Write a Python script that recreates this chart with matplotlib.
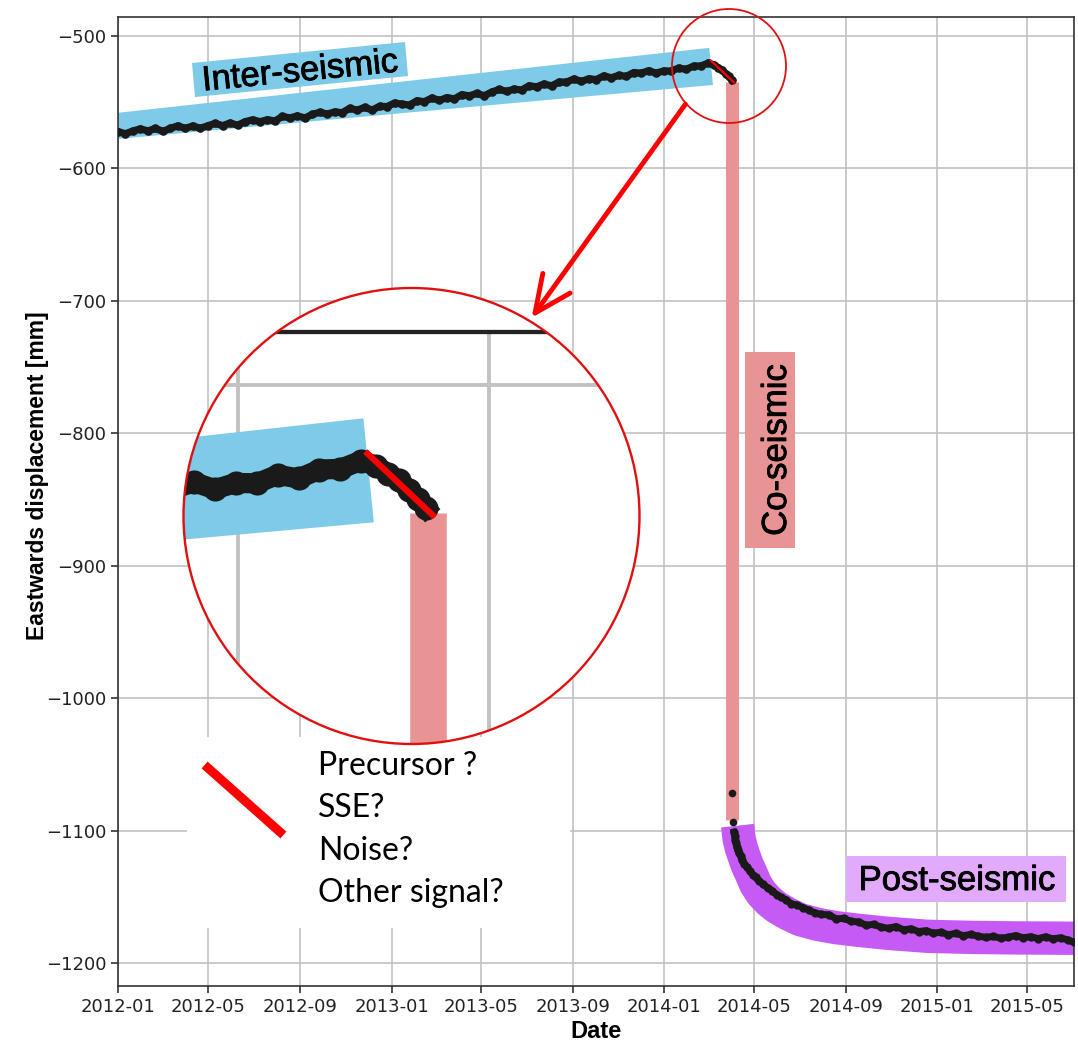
import numpy as np
import pandas as pd
import matplotlib
matplotlib.use('Agg')
import matplotlib.pyplot as plt
import matplotlib.dates as mdates
import matplotlib.patheffects as pe
from matplotlib.patches import Polygon, Circle, Ellipse, FancyArrowPatch
from matplotlib.lines import Line2D

W, H = 1078, 1045


def px(x, y):
    # reference pixel (from top-left) -> figure fraction
    return (x / W, 1 - y / H)


# ---- GPS east component ----
inter_dates = pd.date_range('2012-01-01', periods=80, freq='10D')
inter_vals = [
    -572.2, -573.8, -571.7, -570.1, -571.7, -569.8, -572.0, -569.8, -567.8, -569.8,
    -567.9, -569.7, -567.8, -566.0, -567.7, -565.7, -567.4, -564.7, -563.3, -564.7,
    -563.2, -564.2, -560.7, -561.9, -560.3, -561.9, -559.2, -557.6, -558.9, -557.3,
    -557.9, -554.6, -556.0, -553.9, -555.9, -553.1, -553.3, -550.6, -551.5, -552.1,
    -548.9, -549.6, -546.8, -548.7, -546.5, -547.5, -544.3, -545.2, -543.4, -545.1,
    -542.3, -540.4, -541.8, -540.1, -540.8, -537.6, -538.4, -536.2, -537.7, -534.8,
    -534.8, -532.5, -534.3, -532.3, -532.9, -530.1, -531.6, -529.7, -530.5, -527.6,
    -528.1, -526.2, -528.1, -526.4, -526.5, -524.2, -525.2, -522.8, -522.6, -520.4,
]
precursor_dates = pd.to_datetime(['2014-03-08', '2014-03-14', '2014-03-19',
                                  '2014-03-24', '2014-03-28', '2014-04-01'])
precursor_vals = [-521.8, -523.9, -525.7, -528.4, -530.6, -533.2]

coseismic_dates = pd.to_datetime(['2014-04-02', '2014-04-03'])
coseismic_vals = [-1071, -1093]

quake = pd.Timestamp('2014-04-01')
post_offsets = [3, 4, 5, 6, 7, 8, 10, 12, 14, 17, 20, 24, 28, 32, 37, 42, 48, 54, 60,
                66, 73, 80, 88, 96, 104, 112, 120, 130, 140, 150, 160, 170, 180, 190,
                200, 210, 220, 230, 240, 250, 260, 270, 280, 290, 300, 310, 320, 330,
                340, 350, 360, 370, 380, 390, 400, 410, 420, 430, 440, 450, 458]
post_vals = [
    -1101, -1104, -1107, -1109, -1112, -1114, -1117, -1119, -1122, -1125, -1127,
    -1130, -1133, -1135, -1138, -1140, -1143, -1145, -1148, -1150, -1152, -1155,
    -1156, -1158, -1160, -1162, -1163, -1163.2, -1166.4, -1165.9, -1168.3, -1168.6,
    -1171.2, -1170.4, -1172.6, -1173.4, -1172.1, -1174.6, -1173.8, -1175.9, -1175.2,
    -1177.1, -1176.4, -1178.3, -1177.2, -1179.0, -1178.1, -1179.4, -1180.3, -1179.6,
    -1180.9, -1180.2, -1178.9, -1180.6, -1179.8, -1181.2, -1179.9, -1181.4, -1180.6,
    -1182.3, -1184.0,
]
post_dates = quake + pd.to_timedelta(post_offsets, unit='D')

# hand drawn highlight shapes
inter_band_dates = pd.to_datetime(['2012-01-01', '2014-03-02', '2014-03-07', '2012-01-01'])
inter_band_vals = [-558.0, -509.0, -537.0, -577.7]

post_band_offsets = [8, 10, 13, 16, 21, 26, 32, 40, 50, 60, 75, 92, 115, 140, 170,
                     210, 262, 320, 380, 470]
post_band_vals = [-1096, -1106, -1113, -1118, -1126, -1132, -1140, -1147, -1153,
                  -1157.5, -1162.5, -1167, -1170.5, -1173, -1175, -1177.3, -1179.5,
                  -1180.3, -1180.7, -1181]
post_band_dates = quake + pd.to_timedelta(post_band_offsets, unit='D')

coseismic_bar_date = pd.Timestamp('2014-04-02')
coseismic_bar_vals = [-534.5, -1092]

precursor_line_dates = pd.to_datetime(['2014-03-04', '2014-04-04'])
precursor_line_vals = [-518.5, -535]

legend_lines = ['Precursor ?', 'SSE?', 'Noise?', 'Other signal?']

CYAN = '#7dcbe8'
PINK = '#e99494'
VIOLET = '#c65af4'
VIOLET_LIGHT = '#e2aafa'
BLACK = '#1a1a1a'
GRID = '#c2c2c2'
XMIN, XMAX = pd.Timestamp('2012-01-01'), pd.Timestamp('2015-07-03')
YMIN, YMAX = -1217, -485.7


def draw_layers(a, k):
    band_xy = np.column_stack([mdates.date2num(inter_band_dates), inter_band_vals])
    a.add_patch(Polygon(band_xy, closed=True, fc=CYAN, ec='none', zorder=2))
    a.plot([coseismic_bar_date] * 2, coseismic_bar_vals, color=PINK, lw=9.4 * k,
           solid_capstyle='butt', zorder=2)
    a.plot(post_band_dates, post_band_vals, color=VIOLET, lw=24 * k,
           solid_capstyle='butt', solid_joinstyle='round', zorder=2)
    pre_d = list(inter_dates) + list(precursor_dates)
    pre_v = inter_vals + precursor_vals
    a.plot(pre_d, pre_v, '-o', color=BLACK, lw=5.2 * k, ms=6.2 * k, mew=0, zorder=3)
    a.plot(coseismic_dates, coseismic_vals, 'o', color=BLACK, ms=5.5 * k, mew=0, zorder=3)
    a.plot(post_dates, post_vals, '-o', color=BLACK, lw=5.0 * k, ms=6.0 * k, mew=0, zorder=3)
    a.plot(precursor_line_dates, precursor_line_vals, color='red', lw=1.6 * k, zorder=4)


fig = plt.figure(figsize=(W / 100, H / 100), dpi=100)
ax = fig.add_axes([118 / W, 1 - 986 / H, (1074 - 118) / W, (986 - 17) / H])

draw_layers(ax, 1.0)

ax.set_xlim(XMIN, XMAX)
ax.set_ylim(YMIN, YMAX)
ax.set_yticks(np.arange(-1200, -499, 100))
ax.xaxis.set_major_locator(mdates.MonthLocator(bymonth=[1, 5, 9]))
ax.xaxis.set_major_formatter(mdates.DateFormatter('%Y-%m'))
ax.grid(True, color=GRID, lw=1.2)
ax.set_axisbelow(True)
ax.tick_params(labelsize=13, length=5, width=1.1, colors='#222222')
for s in ax.spines.values():
    s.set_color('#333333')
    s.set_linewidth(1.2)
ax.set_xlabel('Date', family='Liberation Sans', weight='bold', fontsize=17, labelpad=3)
ax.set_ylabel('Eastwards displacement [mm]', family='Liberation Sans', weight='bold',
              fontsize=16.5)
ax.yaxis.set_label_coords(-0.072, 0.527)

# phase labels
heavy = [pe.withStroke(linewidth=0.6, foreground='black')]
lab = dict(family='Liberation Sans', fontsize=25, color='black', zorder=6, path_effects=heavy)
ax.add_patch(Polygon([px(192, 63), px(405, 42), px(408, 76), px(195, 97)],
                     transform=fig.transFigure, fc=CYAN, ec='none', zorder=5))
ax.text(*px(301, 81), 'Inter-seismic', transform=fig.transFigure, rotation=5.6,
        rotation_mode='anchor', ha='center', va='baseline', **lab)
ax.add_patch(Polygon([px(745, 352), px(795, 352), px(795, 548), px(745, 548)],
                     transform=fig.transFigure, fc=PINK, ec='none', zorder=5))
ax.text(*px(786, 450), 'Co-seismic', transform=fig.transFigure, rotation=90,
        rotation_mode='anchor', ha='center', va='baseline', **lab)
ax.add_patch(Polygon([px(846, 856), px(1066, 856), px(1066, 902), px(846, 902)],
                     transform=fig.transFigure, fc=VIOLET_LIGHT, ec='none', zorder=5))
ax.text(*px(957, 890), 'Post-seismic', transform=fig.transFigure,
        ha='center', va='baseline', **lab)

# legend block
ax.add_patch(Polygon([px(187, 737), px(570, 737), px(570, 928), px(187, 928)],
                     transform=fig.transFigure, fc='white', ec='none', zorder=2.5))
ax.add_line(Line2D([208 / W, 280 / W], [1 - 768 / H, 1 - 832 / H], transform=fig.transFigure,
                   color='red', lw=6.5, zorder=6))
for i, t in enumerate(legend_lines):
    ax.text(*px(318, 775 + 42.3 * i), t, transform=fig.transFigure, family='Lato',
            fontsize=23, ha='left', va='baseline', zorder=6)

# zoom circle
ax_in = fig.add_axes([183.5 / W, 1 - 744 / H, 456 / W, 456 / H])
ax_in.set_axis_off()
ax_in.add_patch(Circle((0.5, 0.5), 0.5, transform=ax_in.transAxes, fc='white', ec='none', zorder=0))
k = 2.8
ax_in.vlines(pd.to_datetime(['2014-01-01', '2014-05-01']), -700, YMAX, color=GRID, lw=1.0 * k, zorder=1)
ax_in.hlines(-500, XMIN, XMAX, color=GRID, lw=1.0 * k, zorder=1)
ax_in.hlines(YMAX, XMIN, XMAX, color='#222222', lw=1.1 * k, zorder=1)
draw_layers(ax_in, k)
ax_in.set_xlim(pd.Timestamp('2013-12-06'), pd.Timestamp('2014-07-12'))
ax_in.set_ylim(-596.7, -473.9)
clip = Circle((0.5, 0.5), 0.5, transform=ax_in.transAxes)
for art in ax_in.lines + ax_in.collections + ax_in.patches:
    art.set_clip_path(clip)
ax_in.add_patch(Circle((0.5, 0.5), 0.5, transform=ax_in.transAxes, fill=False,
                       ec='#e01010', lw=1.7, zorder=10, clip_on=False))

# small circle + arrow
fig.add_artist(Ellipse(px(729, 66), 114 / W, 114 / H, fill=False,
                       ec='#e01010', lw=1.3, transform=fig.transFigure))
fig.add_artist(FancyArrowPatch(px(687, 102), px(530, 320), transform=fig.transFigure,
                               arrowstyle='->,head_length=1.2,head_width=0.55',
                               mutation_scale=22, color='red', lw=3.5))

fig.savefig('out.png', dpi=100, facecolor='white')
